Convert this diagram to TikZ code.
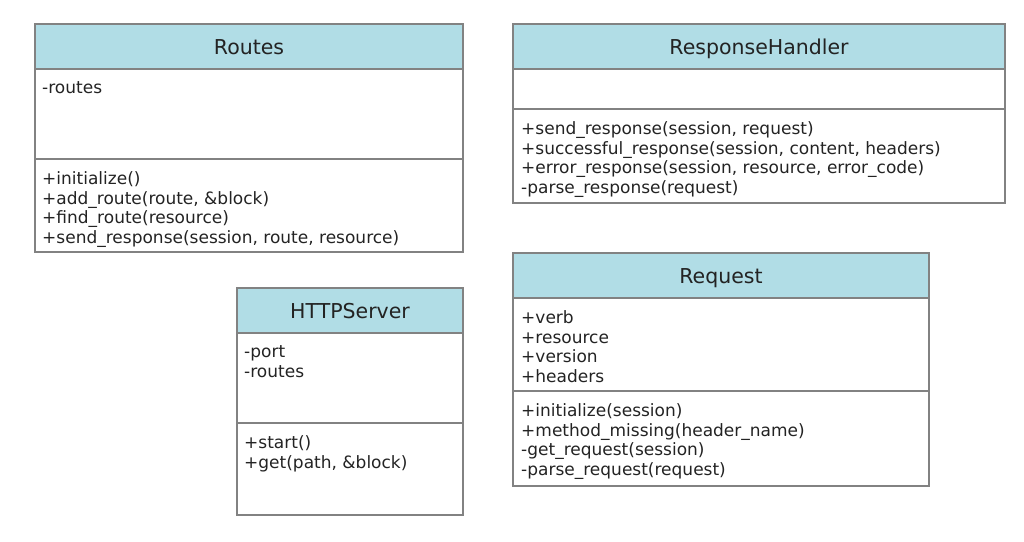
\documentclass[tikz,border=0pt]{standalone}
\usepackage{fontspec}
\setmainfont{DejaVu Sans}
\usetikzlibrary{positioning}
\definecolor{headblue}{RGB}{177,221,230}
\definecolor{boxgray}{RGB}{130,130,130}
\definecolor{textgray}{RGB}{35,35,35}

\begin{document}
\begin{tikzpicture}[
            x = 1pt, y = -1pt, % one unit per pixel, y downwards
            classhead/.style = {draw=boxgray, fill=headblue, line width=1.2pt, outer sep=0pt, inner sep=0pt,
                                font=\fontsize{20.5}{24}\selectfont, text height=15pt, text depth=0pt, text=textgray},
            classpart/.style = {draw=boxgray, line width=1.2pt, outer sep=0pt, inner sep=0pt},
            members/.style = {anchor=north west, inner sep=0pt, align=left,
                              font=\fontsize{17}{19.5}\selectfont, text=textgray}
        ]
\useasboundingbox (0,0) rectangle (1024,541);

% Routes
\node[classhead, anchor=north west, minimum width=428pt, minimum height=45pt] (routes) at (35,24) {Routes};
\node[classpart, below=0pt of routes, minimum width=428pt, minimum height=90pt] (routes_attr) {};
\node[classpart, below=0pt of routes_attr, minimum width=428pt, minimum height=93pt] (routes_ops) {};
\node[members] (routes_attr_txt) at ([xshift=7pt,yshift=-12.5pt]routes_attr.north west) {-routes};
\node[members] (routes_ops_txt) at ([xshift=7pt,yshift=-12.5pt]routes_ops.north west)
    {+initialize()\\+add\_route(route, \&block)\\+find\_route(resource)\\+send\_response(session, route, resource)};

% ResponseHandler
\node[classhead, anchor=north west, minimum width=492pt, minimum height=45pt] (handler) at (513,24) {ResponseHandler};
\node[classpart, below=0pt of handler, minimum width=492pt, minimum height=40pt] (handler_attr) {};
\node[classpart, below=0pt of handler_attr, minimum width=492pt, minimum height=94pt] (handler_ops) {};
\node[members] (handler_ops_txt) at ([xshift=8pt,yshift=-12.5pt]handler_ops.north west)
    {+send\_response(session, request)\\+successful\_response(session, content, headers)\\+error\_response(session, resource, error\_code)\\-parse\_response(request)};

% HTTPServer
\node[classhead, anchor=north west, minimum width=226pt, minimum height=45pt] (server) at (237,288) {HTTPServer};
\node[classpart, below=0pt of server, minimum width=226pt, minimum height=90pt] (server_attr) {};
\node[classpart, below=0pt of server_attr, minimum width=226pt, minimum height=92pt] (server_ops) {};
\node[members] (server_attr_txt) at ([xshift=7pt,yshift=-12.5pt]server_attr.north west) {-port\\-routes};
\node[members] (server_ops_txt) at ([xshift=7pt,yshift=-12.5pt]server_ops.north west) {+start()\\+get(path, \&block)};

% Request
\node[classhead, anchor=north west, minimum width=416pt, minimum height=45pt] (request) at (513,253) {Request};
\node[classpart, below=0pt of request, minimum width=416pt, minimum height=93pt] (request_attr) {};
\node[classpart, below=0pt of request_attr, minimum width=416pt, minimum height=95pt] (request_ops) {};
\node[members] (request_attr_txt) at ([xshift=8pt,yshift=-12.5pt]request_attr.north west)
    {+verb\\+resource\\+version\\+headers};
\node[members] (request_ops_txt) at ([xshift=8pt,yshift=-12.5pt]request_ops.north west)
    {+initialize(session)\\+method\_missing(header\_name)\\-get\_request(session)\\-parse\_request(request)};
\end{tikzpicture}
\end{document}
